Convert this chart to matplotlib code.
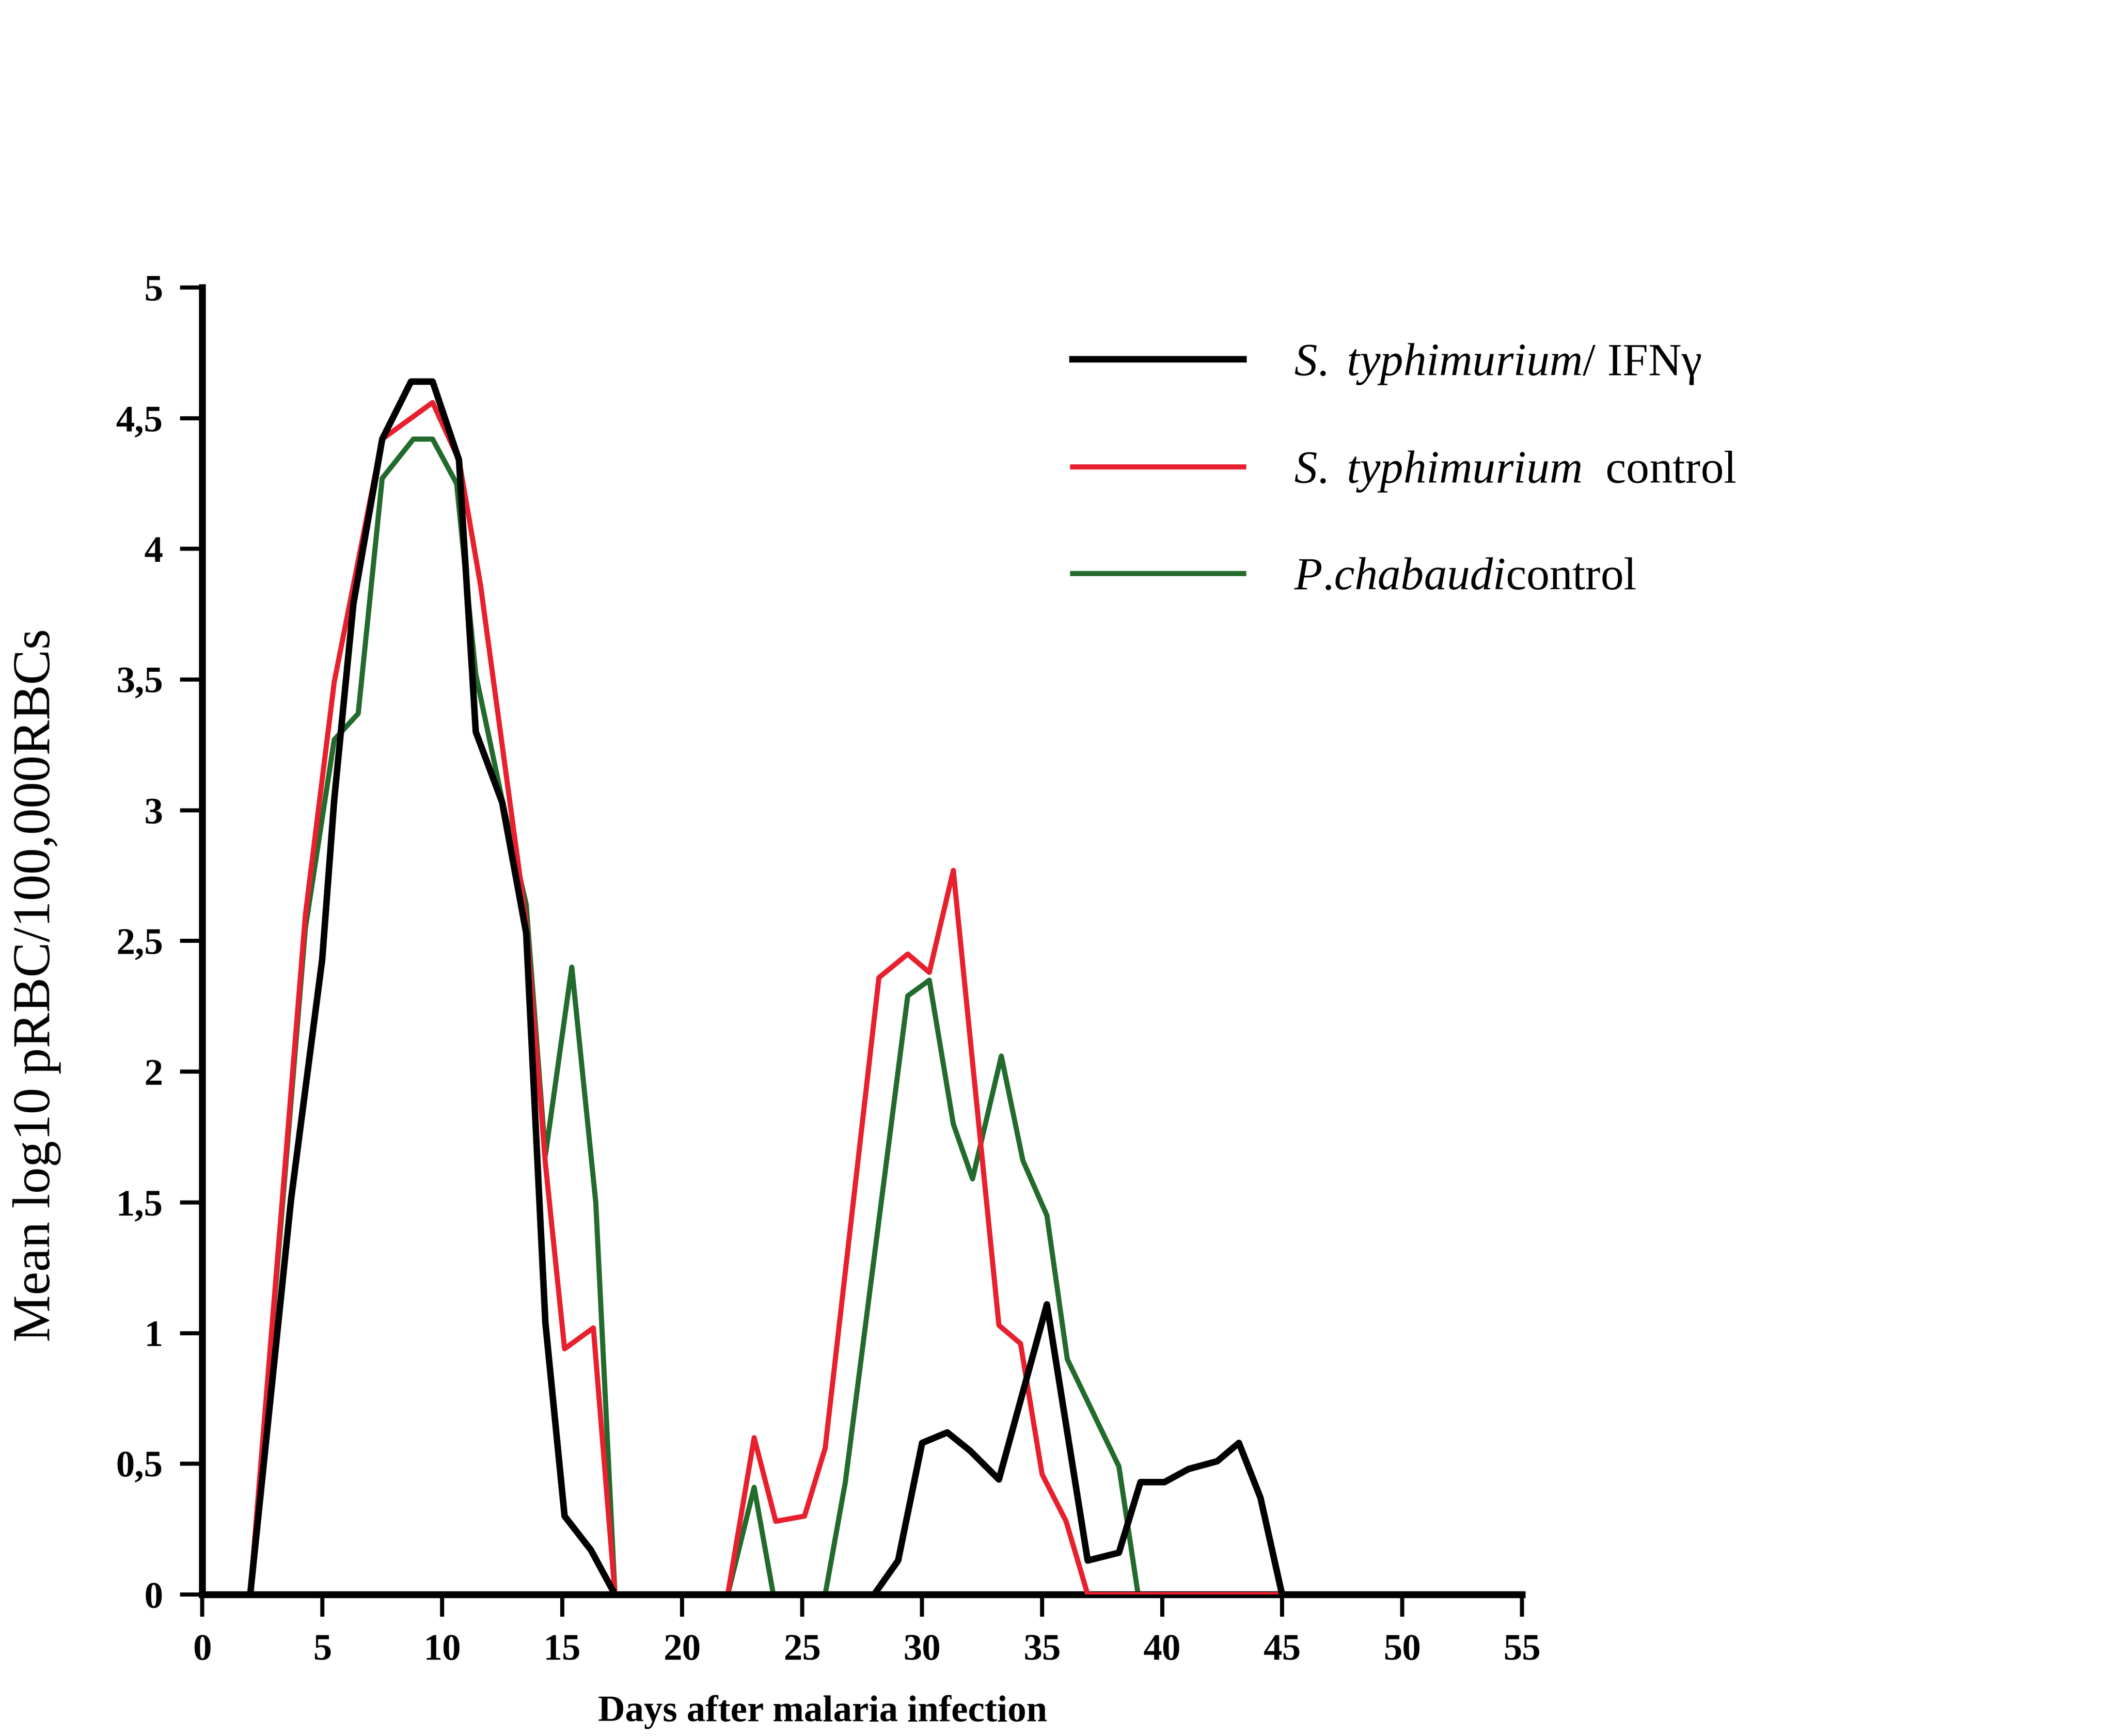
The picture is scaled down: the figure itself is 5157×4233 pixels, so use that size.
import numpy as np
import matplotlib
matplotlib.use("Agg")
import matplotlib.pyplot as plt
from matplotlib.ticker import FixedLocator, FuncFormatter

plt.rcParams['font.family'] = ['Liberation Serif', 'DejaVu Serif']
plt.rcParams['mathtext.fontset'] = 'custom'
plt.rcParams['mathtext.it'] = 'Liberation Serif:italic'
plt.rcParams['mathtext.rm'] = 'Liberation Serif'

# Values (days after infection, mean log10 parasitaemia)
days_ifn = [2, 3.7, 5.0, 5.5, 6.3, 7.5, 8.7, 9.6, 10.7, 11.4, 12.5, 13.5, 14.3,
            15.1, 16.2, 17.2, 28.0, 29.0, 30.0, 31.05, 32.0, 33.2, 35.2, 36.9,
            38.2, 39.1, 40.1, 41.1, 42.3, 43.2, 44.1, 45.0, 55.0]
vals_ifn = [0, 1.51, 2.43, 3.04, 3.79, 4.42, 4.64, 4.64, 4.34, 3.30, 3.03, 2.53,
            1.04, 0.30, 0.17, 0, 0, 0.13, 0.58, 0.62, 0.55, 0.44, 1.11, 0.13,
            0.16, 0.43, 0.43, 0.48, 0.51, 0.58, 0.37, 0, 0]

days_sty = [2, 4.3, 5.5, 7.5, 9.6, 10.7, 11.6, 13.5, 14.3, 15.1, 16.3, 17.2,
            21.9, 23.0, 23.9, 25.1, 25.96, 28.2, 29.4, 30.3, 31.3, 33.2, 34.1,
            35.0, 36.0, 36.9, 45.0]
vals_sty = [0, 2.60, 3.49, 4.42, 4.56, 4.34, 3.86, 2.57, 1.65, 0.94, 1.02, 0,
            0, 0.60, 0.28, 0.30, 0.56, 2.36, 2.45, 2.38, 2.77, 1.03, 0.96,
            0.46, 0.28, 0, 0]

days_pc = [2, 4.3, 5.5, 6.5, 7.5, 8.8, 9.6, 10.6, 11.4, 12.5, 13.5, 14.3, 15.4,
           16.4, 17.2, 21.9, 23.0, 23.8, 25.96, 26.8, 29.4, 30.3, 31.3, 32.1,
           33.3, 34.2, 35.2, 36.05, 38.2, 39.0]
vals_pc = [0, 2.55, 3.27, 3.37, 4.27, 4.42, 4.42, 4.25, 3.52, 3.04, 2.64, 1.68,
           2.40, 1.50, 0, 0, 0.41, 0, 0, 0.43, 2.29, 2.35, 1.80, 1.59, 2.06,
           1.66, 1.45, 0.90, 0.49, 0]

labels = [r"$\it{S.}$ $\it{typhimurium}$/ IFNγ",
          r"$\it{S.}$ $\it{typhimurium}$  control",
          r"$\it{P}$.$\it{chabaudi}$control"]

fig = plt.figure(figsize=(5158 / 300, 4233 / 300), dpi=300)
ax = fig.add_axes([0.0956, 0.0815, 0.7195 - 0.0956, 0.8344 - 0.0815])

l3, = ax.plot(days_pc, vals_pc, color='#226b2c', lw=3.0, zorder=2)
l2, = ax.plot(days_sty, vals_sty, color='#e8202e', lw=3.0, zorder=3)
l1, = ax.plot(days_ifn, vals_ifn, color='black', lw=3.8, zorder=4)

ax.set_xlim(0, 55)
ax.set_ylim(0, 5)
ax.xaxis.set_major_locator(FixedLocator(np.arange(0, 56, 5)))
ax.yaxis.set_major_locator(FixedLocator(np.arange(0, 5.01, 0.5)))
ax.yaxis.set_major_formatter(FuncFormatter(lambda v, p: ('%g' % v).replace('.', ',')))

for s in ['top', 'right']:
    ax.spines[s].set_visible(False)
for s in ['left', 'bottom']:
    ax.spines[s].set_linewidth(4.0)
    ax.spines[s].set_clip_on(False)
ax.tick_params(axis='both', width=2.4, length=13, direction='out', pad=10,
               labelsize=22)
for t in ax.get_xticklabels() + ax.get_yticklabels():
    t.set_fontweight('bold')

ax.set_xlabel('Days after malaria infection', fontsize=22, fontweight='bold')
ax.xaxis.set_label_coords(0.47, -0.077)
ax.set_ylabel('Mean log10 pRBC/100,000RBCs', fontsize=31)
ax.yaxis.set_label_coords(-0.107, 0.466)

ax.legend([l1, l2, l3], labels, loc='upper left', bbox_to_anchor=(0.628, 0.99),
          frameon=False, fontsize=27, handlelength=3.7, handletextpad=1.1,
          labelspacing=1.38)

fig.savefig('out.png', dpi=300, facecolor='white')
